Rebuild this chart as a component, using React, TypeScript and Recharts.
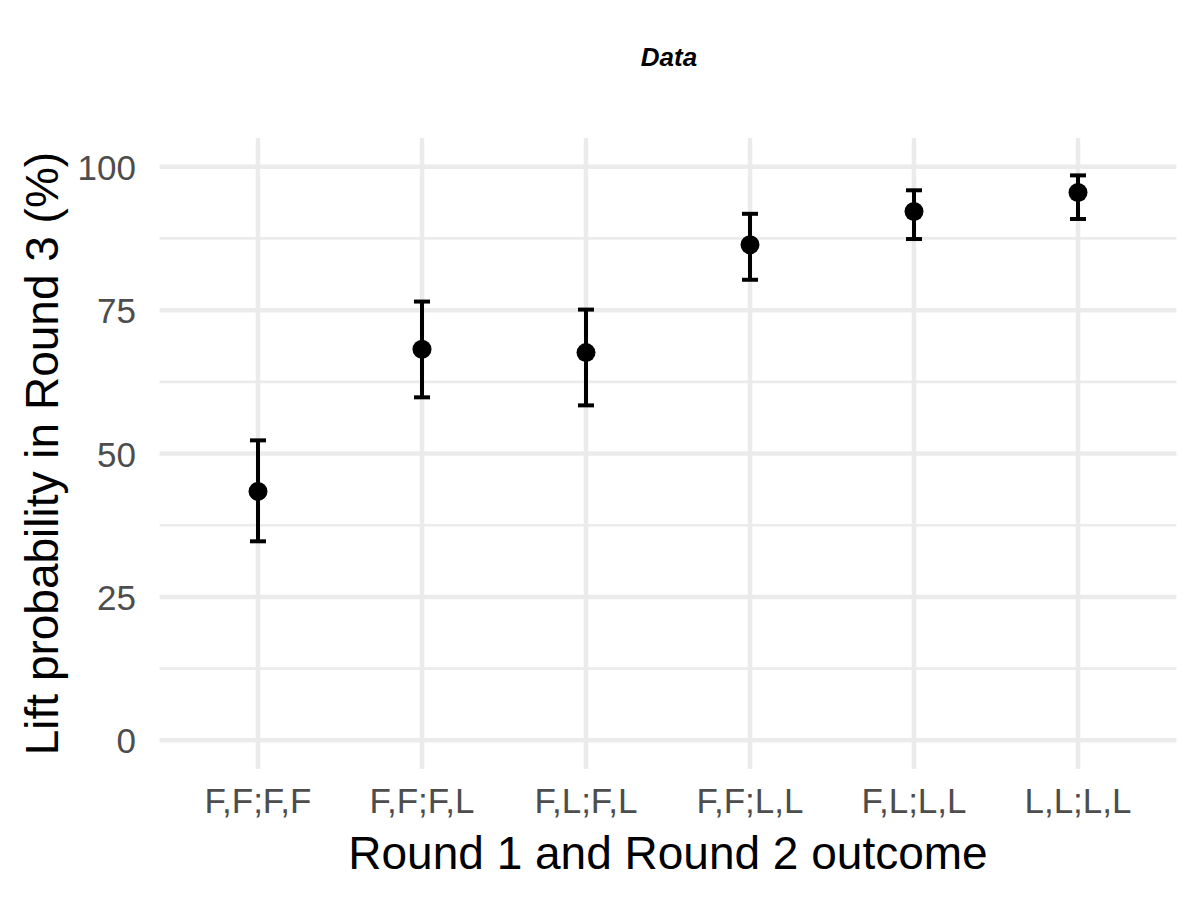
import React from 'react';
import {
  ComposedChart,
  Scatter,
  XAxis,
  YAxis,
  ErrorBar,
  ReferenceLine,
  Label,
} from 'recharts';

const categories = ['F,F;F,F', 'F,F;F,L', 'F,L;F,L', 'F,F;L,L', 'F,L;L,L', 'L,L;L,L'];
const estimates = [43.4, 68.2, 67.6, 86.4, 92.2, 95.5];
const lowerCI = [34.7, 59.8, 58.4, 80.3, 87.4, 90.9];
const upperCI = [52.3, 76.5, 75.1, 91.8, 95.9, 98.5];
const yTicks = [0, 25, 50, 75, 100];
const yMinorTicks = [12.5, 37.5, 62.5, 87.5];

const titleText = 'Data';
const xTitle = 'Round 1 and Round 2 outcome';
const yTitle = 'Lift probability in Round 3 (%)';

const FONT = '"Liberation Sans", Arial, Helvetica, sans-serif';

const data = categories.map((c, i) => ({
  x: i + 1,
  label: c,
  y: estimates[i],
  err: [estimates[i] - lowerCI[i], upperCI[i] - estimates[i]],
}));
const xTicks = categories.map((_, i) => i + 1);

const XTick = (props: any) => {
  const { x, y, payload } = props;
  return (
    <text x={x} y={y + 44} textAnchor="middle" fill="#4d4d4d" fontSize={35} fontFamily={FONT}>
      {categories[payload.value - 1]}
    </text>
  );
};

const YTick = (props: any) => {
  const { x, y, payload } = props;
  return (
    <text x={x} y={y + 13} textAnchor="end" fill="#4d4d4d" fontSize={35} fontFamily={FONT}>
      {payload.value}
    </text>
  );
};

const Dot = (props: any) => {
  const { cx, cy } = props;
  return <circle cx={cx} cy={cy} r={9.5} fill="#000" />;
};

export default function App() {
  return (
    <div style={{ position: 'absolute', left: 0, top: 0, width: 1200, height: 900, background: '#fff' }}>
      <div
        style={{
          position: 'absolute',
          left: 469,
          top: 44,
          width: 400,
          textAlign: 'center',
          fontFamily: FONT,
          fontSize: 26,
          lineHeight: '26px',
          fontWeight: 'bold',
          fontStyle: 'italic',
          color: '#000',
        }}
      >
        {titleText}
      </div>
      <ComposedChart
        width={1200}
        height={900}
        data={data}
        margin={{ top: 138.1, right: 23.6, bottom: 0, left: 0 }}
      >
        {yMinorTicks.map((v) => (
          <ReferenceLine key={`ym${v}`} y={v} stroke="#ebebeb" strokeWidth={2.7} />
        ))}
        {yTicks.map((v) => (
          <ReferenceLine key={`y${v}`} y={v} stroke="#ebebeb" strokeWidth={4.5} />
        ))}
        {xTicks.map((v) => (
          <ReferenceLine key={`x${v}`} x={v} stroke="#ebebeb" strokeWidth={4.5} />
        ))}
        <XAxis
          type="number"
          dataKey="x"
          domain={[0.4, 6.6]}
          ticks={xTicks}
          interval={0}
          axisLine={false}
          tickLine={false}
          tickSize={0}
          tickMargin={0}
          height={131}
          tick={<XTick />}
        >
          <Label
            content={(p: any) => {
              const vb = p.viewBox;
              return (
                <text x={vb.x + vb.width / 2} y={vb.y + 100} textAnchor="middle" fill="#000" fontSize={46} fontFamily={FONT}>
                  {xTitle}
                </text>
              );
            }}
          />
        </XAxis>
        <YAxis
          type="number"
          dataKey="y"
          domain={[-5, 105]}
          ticks={yTicks}
          interval={0}
          axisLine={false}
          tickLine={false}
          tickSize={0}
          tickMargin={23.6}
          width={159.6}
          tick={<YTick />}
        >
          <Label
            content={(p: any) => {
              const vb = p.viewBox;
              const cx = 58;
              const cy = vb.y + vb.height / 2;
              return (
                <text x={cx} y={cy} transform={`rotate(-90, ${cx}, ${cy})`} textAnchor="middle" fill="#000" fontSize={46} fontFamily={FONT}>
                  {yTitle}
                </text>
              );
            }}
          />
        </YAxis>
        <Scatter dataKey="y" fill="#000" shape={<Dot />} isAnimationActive={false}>
          <ErrorBar dataKey="err" direction="y" width={8} stroke="#000" strokeWidth={4} isAnimationActive={false} />
        </Scatter>
      </ComposedChart>
    </div>
  );
}
